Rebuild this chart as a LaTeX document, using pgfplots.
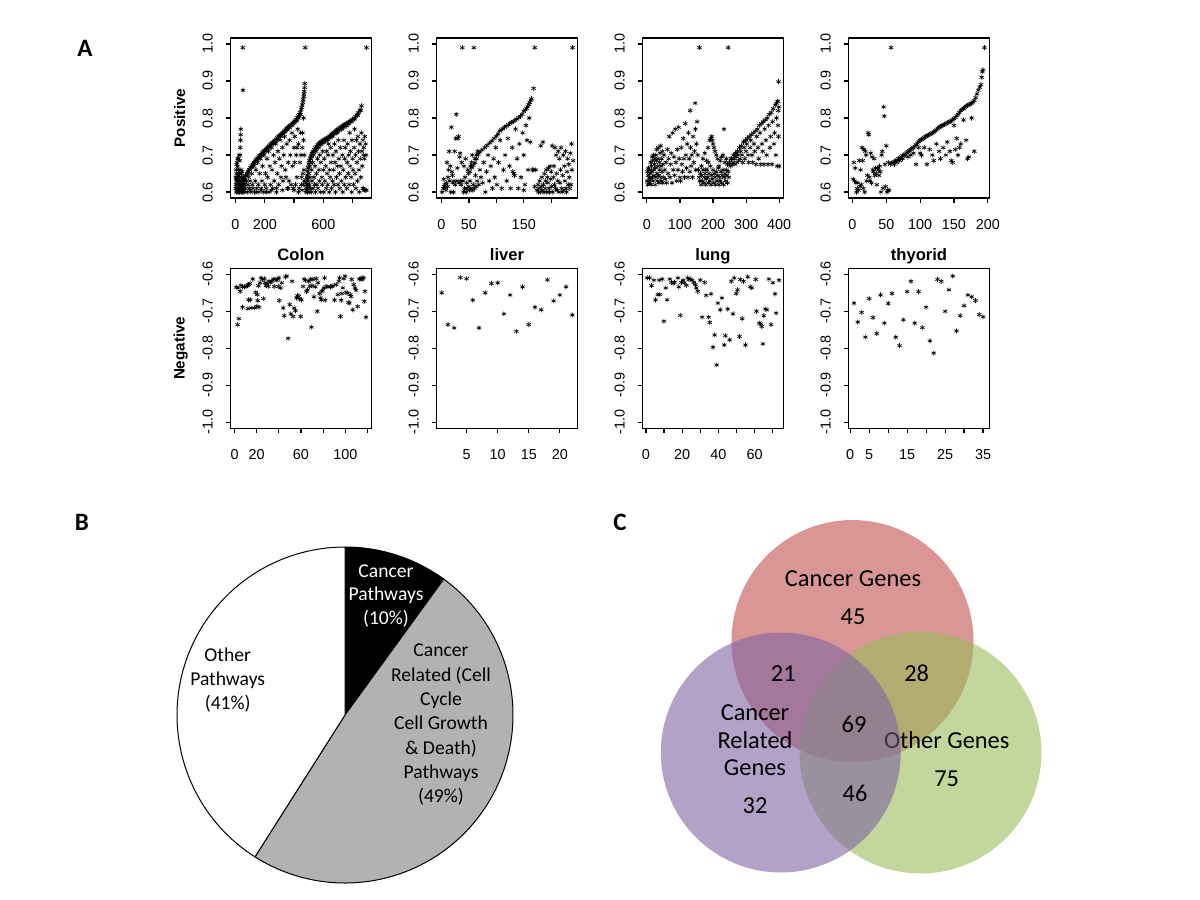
\documentclass[border=0pt]{standalone}
\usepackage{pgfplots}
\pgfplotsset{compat=1.18}
\usepackage{fontspec}
\setmainfont{Liberation Sans}
\newfontfamily\calibri{Carlito}
\definecolor{vred}{HTML}{C0504D}
\definecolor{vgreen}{HTML}{9BBB59}
\definecolor{vpurple}{HTML}{8064A2}
\definecolor{piegray}{RGB}{178,178,178}
\definecolor{darkO}{RGB}{63,49,81}
\pgfplotsset{
  rplot/.style={
    scale only axis, width=70.5pt, height=80pt, anchor=south west,
    axis line style={line width=0.6pt},
    tick align=outside, tick pos=left,
    major tick length=2.5pt,
    every tick/.style={black, line width=0.6pt},
    tick label style={font=\fontsize{7.2}{8}\selectfont, inner sep=0pt},
    xticklabel style={anchor=base, yshift=-13.2pt},
    yticklabel style={xshift=-6.4pt, rotate=90, anchor=base},
  },
  toprow/.style={rplot, ymin=0.584, ymax=1.016, ytick={0.6,0.7,0.8,0.9,1.0}, yticklabels={0.6,0.7,0.8,0.9,1.0}},
  botrow/.style={rplot, ymin=-1.016, ymax=-0.584, ytick={-1,-0.9,-0.8,-0.7,-0.6}, yticklabels={-1.0,-0.9,-0.8,-0.7,-0.6}},
  pts/.style={only marks, mark=asterisk, mark size=1.25pt, mark options={line width=0.33pt, black}},
}
\pgfmathsetmacro\pieA{10}
\pgfmathsetmacro\pieB{49}
\pgfmathsetmacro\pieC{41}
\pgfmathsetmacro\aOne{90-3.6*\pieA}
\pgfmathsetmacro\aTwo{\aOne-3.6*\pieB}
\pgfmathsetmacro\aThree{\aTwo-3.6*\pieC}
\begin{document}
\begin{tikzpicture}
\useasboundingbox (0,0) rectangle (600pt,-450pt);

% ---------------- Colon positive
\begin{axis}[toprow, at={(115.25pt,-99pt)}, xmin=-34, xmax=929,
  xtick={0,200,400,600,800}, xticklabels={0,200,,600,}]
\addplot[pts] coordinates {
(2,.61)(3,.64)(4,.62)(5,.66)(6,.60)(7,.63)(8,.65)(9,.61)(10,.68)(11,.62)(12,.64)(13,.60)(14,.67)(15,.63)(16,.61)(17,.65)(18,.62)(19,.69)(20,.60)(21,.64)(22,.66)(23,.61)(24,.63)(25,.70)(26,.62)(27,.60)(28,.65)(29,.61)(30,.685)(31,.63)(32,.70)(33,.72)(34,.74)(35,.755)(36,.77)(37,.62)(38,.66)(39,.64)(40,.60)(41,.63)(42,.61)(43,.65)(44,.62)(45,.60)(46,.64)(47,.61)(48,.63)(49,.60)(50,.99)(51,.875)(52,.62)(53,.605)(54,.64)(55,.61)(57,.63)(58,.60)(60,.62)(6,.635)(12,.605)(18,.645)(24,.605)(36,.615)(44,.655)(8,.675)(15,.69)(22,.605)
(62,.639)(70,.645)(78,.651)(86,.656)(94,.661)(102,.666)(110,.671)(118,.675)(126,.68)(134,.684)(142,.688)(150,.692)(158,.695)(166,.699)(174,.702)(182,.706)(190,.709)(198,.712)(206,.716)(214,.719)(222,.722)(230,.725)(238,.728)(246,.731)(254,.734)(262,.737)(270,.74)(278,.743)(286,.747)(294,.75)(302,.753)(310,.756)(318,.759)(326,.762)(334,.765)(342,.768)(350,.772)(358,.775)(366,.778)(374,.78)(382,.783)(390,.786)(398,.789)(406,.792)(414,.796)(422,.801)(430,.806)(436,.81)(442,.815)(448,.822)(452,.828)(456,.835)(460,.842)(463,.85)(466,.858)(468,.865)(470,.872)(472,.882)(473,.893)
(66,.635)(82,.648)(98,.659)(114,.668)(130,.677)(146,.685)(162,.692)(178,.699)(194,.706)(210,.712)(226,.718)(242,.724)(258,.731)(274,.736)(290,.743)(306,.75)(322,.756)(338,.762)(354,.768)(370,.774)(386,.78)(402,.786)(418,.792)(432,.80)(445,.81)
(65,.62)(70,.61)(75,.63)(80,.60)(85,.62)(90,.64)(95,.61)(100,.63)(105,.60)(110,.65)(115,.62)(120,.61)(125,.67)(130,.60)(135,.63)(140,.66)(145,.61)(150,.68)(155,.62)(160,.60)(165,.65)(170,.69)(175,.61)(180,.63)(185,.67)(190,.60)(195,.70)(200,.62)(205,.65)(210,.61)(215,.69)(220,.64)(225,.71)(230,.60)(235,.67)(240,.62)(245,.72)(250,.66)(255,.61)(260,.70)(265,.63)(270,.68)(275,.73)(280,.61)(285,.65)(290,.71)(295,.62)(300,.69)(305,.74)(310,.64)(315,.67)(320,.72)(325,.63)(330,.70)(335,.75)(340,.66)(345,.64)(350,.73)(355,.61)(360,.68)(365,.63)(370,.74)(375,.70)(380,.62)(385,.76)(390,.67)(395,.61)(400,.72)(405,.75)(410,.62)(415,.70)(420,.64)(425,.77)(430,.73)(435,.61)(440,.68)(445,.76)(450,.62)(455,.72)(460,.65)(465,.80)(470,.63)
(100,.605)(140,.60)(175,.605)(210,.60)(245,.605)(280,.60)(320,.605)(360,.61)(400,.605)(430,.60)(455,.605)(463,.62)(467,.66)(470,.70)(465,.74)(458,.76)(448,.70)(452,.64)(420,.72)(405,.68)
(477,.99)(895,.99)
(484,.612)(486,.625)(488,.637)(490,.646)(493,.657)(496,.667)(500,.676)(505,.685)(510,.692)(516,.699)(522,.705)(530,.710)(538,.715)(546,.72)(554,.724)(562,.728)(570,.731)(578,.734)(586,.736)(594,.738)(602,.740)(610,.742)(618,.744)(626,.746)(634,.748)(642,.751)(650,.754)(658,.756)(666,.759)(674,.761)(682,.764)(690,.767)(698,.769)(706,.771)(714,.774)(722,.776)(730,.778)(738,.780)(746,.782)(754,.784)(762,.786)(770,.788)(780,.791)(790,.794)(800,.797)(810,.8)(820,.804)(830,.809)(840,.815)(850,.822)(861,.833)
(487,.62)(492,.64)(498,.665)(507,.68)(520,.695)(535,.707)(550,.716)(566,.723)(582,.729)(598,.733)(614,.737)(630,.741)(646,.746)(662,.752)(678,.757)(694,.762)(710,.767)(726,.771)(742,.775)(758,.779)(775,.784)(795,.79)(815,.797)(835,.807)(855,.82)
(482,.60)(485,.605)(488,.61)(490,.62)(492,.60)(495,.63)(497,.61)(500,.65)(503,.60)(505,.62)(508,.67)(510,.64)(513,.61)(515,.69)(518,.60)(520,.66)(523,.63)(526,.68)(530,.61)(533,.70)(536,.64)(540,.62)(543,.67)(546,.60)(550,.71)(553,.65)(556,.62)(560,.69)(563,.61)(566,.72)(570,.66)(573,.63)(576,.70)(580,.60)(583,.68)(586,.73)(590,.64)(593,.62)(596,.71)(600,.66)(603,.60)(606,.69)(610,.63)(613,.74)(616,.67)(620,.61)(623,.71)(626,.65)(630,.62)(633,.70)(636,.73)(640,.60)(643,.66)(646,.64)(650,.72)(653,.68)(656,.61)(660,.75)(663,.63)(666,.70)(670,.66)(673,.62)(676,.73)(680,.68)(683,.60)(686,.71)(690,.64)(693,.76)(696,.67)(700,.62)(703,.74)(706,.69)(710,.65)(713,.61)(716,.72)(720,.67)(723,.63)(726,.77)(730,.70)(733,.60)(736,.66)(740,.74)(743,.62)(746,.69)(750,.72)(753,.64)(756,.78)(760,.61)(763,.68)(766,.73)(770,.65)(773,.70)(776,.62)(780,.76)(783,.67)(786,.71)(790,.64)(793,.60)(796,.74)(800,.69)(803,.66)(806,.62)(810,.72)(813,.77)(816,.65)(820,.70)(823,.61)(826,.74)(830,.68)(833,.63)(836,.75)(840,.71)(843,.66)(846,.60)(850,.73)(853,.69)(856,.64)(860,.76)(863,.71)(866,.67)(870,.74)(873,.61)(876,.72)(880,.69)(883,.75)(886,.605)(889,.73)(892,.70)(894,.605)(880,.605)(870,.61)(875,.70)
};
\end{axis}

% ---------------- liver positive
\begin{axis}[toprow, at={(218.25pt,-99pt)}, xmin=-9.1, xmax=248,
  xtick={0,50,100,150,200}, xticklabels={0,50,,150,}]
\addplot[pts] coordinates {
(1,.60)(3,.61)(4,.635)(5,.615)(6,.62)(7,.61)(8,.605)(9,.625)(10,.68)(11,.615)(12,.64)(13,.66)(14,.71)(15,.63)(16,.67)(17,.60)(18,.775)(19,.655)(20,.645)(21,.625)(22,.60)(23,.63)(24,.71)(25,.62)(26,.745)(27,.81)(28,.63)(29,.665)(30,.745)(31,.75)(32,.625)(33,.695)(34,.705)(35,.63)(36,.62)(37,.68)(38,.99)(39,.63)(40,.60)(41,.67)(42,.61)(43,.64)(44,.69)(45,.60)(46,.625)(47,.61)(48,.66)(49,.65)(50,.615)(51,.605)(52,.63)(53,.67)(54,.61)(55,.68)(56,.70)(57,.605)(58,.62)(59,.99)(60,.61)(61,.69)(62,.645)(63,.615)(64,.70)(65,.63)(66,.71)
(67,.702)(70,.708)(74,.714)(79,.72)(83,.726)(88,.733)(92,.738)(96,.745)(100,.751)(103,.757)(106,.765)(109,.768)(112,.771)(115,.775)(118,.778)(122,.782)(125,.786)(128,.788)(131,.791)(134,.794)(137,.797)(141,.801)(144,.805)(147,.81)(150,.818)(153,.822)(155,.826)(157,.83)(159,.836)(161,.842)(163,.848)(164,.852)(168,.88)(170,.99)
(52,.655)(55,.666)(58,.672)(61,.679)(64,.69)
(68,.62)(70,.66)(72,.64)(75,.625)(77,.68)(80,.60)(82,.655)(85,.70)(87,.63)(90,.67)(93,.61)(95,.69)(97,.64)(99,.72)(101,.62)(104,.68)(107,.74)(110,.61)(113,.66)(116,.70)(119,.63)(121,.745)(124,.67)(126,.61)(129,.72)(132,.65)(135,.77)(138,.69)(140,.61)(142,.73)(145,.64)(148,.76)(150,.70)(152,.62)(154,.78)(156,.74)(158,.66)(160,.80)(162,.735)(150,.605)(130,.655)(133,.645)
(166,.66)(168,.66)(170,.615)(172,.66)(174,.605)(176,.62)(177,.60)(178,.61)(179,.63)(180,.60)(181,.725)(182,.615)(183,.64)(184,.605)(185,.735)(186,.62)(187,.60)(188,.65)(189,.61)(190,.63)(191,.66)(192,.60)(193,.64)(194,.625)(195,.665)(196,.61)(197,.60)(198,.67)(199,.635)(200,.655)(201,.615)(202,.725)(203,.60)(204,.64)(205,.67)(206,.62)(207,.72)(208,.61)(209,.70)(210,.65)(211,.605)(212,.63)(213,.71)(214,.60)(215,.69)(216,.625)(217,.66)(218,.72)(219,.61)(220,.60)(221,.645)(222,.70)(223,.605)(224,.67)(225,.63)(226,.71)(227,.61)(228,.60)(229,.655)(230,.69)(231,.62)(232,.675)(233,.64)(234,.61)(235,.705)(236,.62)(237,.73)(238,.66)(239,.99)(240,.685)
};
\end{axis}

% ---------------- lung positive
\begin{axis}[toprow, at={(321.25pt,-99pt)}, xmin=-13, xmax=413,
  xtick={0,100,200,300,400}, xticklabels={0,100,200,300,400}]
\addplot[pts] coordinates {
(1,.63)(2,.655)(3,.62)(4,.645)(5,.665)(6,.63)(7,.64)(8,.625)(9,.66)(10,.65)(11,.635)(12,.68)(13,.62)(14,.67)(15,.655)(16,.695)(17,.64)(18,.685)(19,.63)(20,.70)(21,.66)(22,.645)(23,.675)(24,.69)(25,.62)(26,.665)(27,.70)(28,.64)(29,.685)(30,.715)(31,.65)(32,.63)(33,.67)(34,.69)(35,.72)(36,.645)(37,.625)(38,.68)(39,.66)(40,.705)(41,.64)(42,.725)(43,.67)(44,.63)(45,.69)(46,.655)(47,.71)(48,.625)(49,.675)(50,.64)(52,.70)(54,.66)(56,.635)(58,.68)(60,.625)(62,.715)(64,.65)(66,.69)(68,.75)(70,.64)(72,.675)(74,.705)(76,.625)(78,.76)(80,.66)(82,.695)(84,.645)(86,.77)(88,.68)(90,.63)(92,.715)(94,.66)(96,.775)(98,.69)(100,.64)(102,.63)(104,.72)(106,.675)(108,.655)(110,.745)(112,.69)(114,.64)(116,.785)(118,.70)(120,.665)(122,.73)(124,.64)(126,.76)(128,.69)(130,.655)(131,.82)(132,.72)(134,.67)(136,.70)(138,.64)(140,.75)(142,.68)(144,.71)(146,.84)(147,.77)(148,.66)(150,.73)(152,.79)(154,.70)(156,.66)
(158,.64)(160,.63)(162,.65)(164,.62)(166,.645)(168,.63)(170,.66)(172,.625)(174,.64)(176,.65)(178,.62)(180,.635)(182,.66)(184,.64)(186,.625)(188,.65)(190,.63)(192,.67)(194,.62)(196,.645)(198,.635)(200,.66)(202,.625)(204,.65)(206,.64)(208,.62)(210,.655)(212,.63)(214,.645)(216,.665)(218,.62)(220,.64)(222,.63)(224,.655)(226,.625)(228,.645)(230,.66)(232,.62)(234,.64)(236,.65)(238,.63)(240,.66)(242,.645)(244,.625)(246,.655)(248,.64)
(165,.67)(170,.69)(175,.705)(180,.685)(185,.72)(190,.74)(193,.745)(196,.75)(198,.74)(200,.73)(203,.72)(206,.71)(210,.70)(214,.69)(218,.67)(222,.685)(226,.695)(230,.70)(233,.77)(236,.68)(240,.69)(244,.675)(159,.99)(246,.99)(178,.66)(186,.68)
(250,.68)(256,.69)(262,.70)(268,.705)(274,.71)(280,.72)(286,.725)(292,.735)(298,.74)(304,.745)(310,.75)(316,.755)(322,.76)(328,.765)(334,.77)(340,.78)(346,.785)(352,.79)(358,.795)(364,.80)(370,.81)(376,.815)(382,.825)(388,.835)(392,.84)(396,.845)(398,.898)
(252,.67)(254,.69)(258,.675)(260,.68)(264,.69)(266,.675)(270,.695)(272,.68)(276,.70)(278,.685)(282,.69)(284,.71)(288,.70)(290,.68)(294,.72)(296,.69)(300,.71)(302,.73)(306,.70)(308,.68)(312,.72)(314,.74)(318,.70)(320,.68)(324,.73)(326,.71)(330,.675)(332,.75)(336,.72)(338,.69)(342,.76)(344,.675)(348,.73)(350,.71)(354,.675)(356,.77)(360,.74)(362,.70)(366,.675)(368,.78)(372,.72)(374,.75)(378,.675)(380,.79)(384,.73)(386,.76)(390,.70)(392,.80)(394,.67)(396,.78)(398,.75)(400,.67)(397,.82)(399,.83)(395,.845)
};
\end{axis}

% ---------------- thyroid positive
\begin{axis}[toprow, at={(424.25pt,-99pt)}, xmin=-5.9, xmax=202.5,
  xtick={0,50,100,150,200}, xticklabels={0,50,100,150,200}]
\addplot[pts] coordinates {
(1,.635)(2,.68)(3,.63)(4,.665)(5,.625)(6,.60)(7,.61)(8,.625)(9,.605)(10,.685)(11,.615)(12,.66)(13,.62)(14,.72)(15,.685)(16,.61)(17,.715)(18,.60)(19,.71)(20,.70)(21,.63)(22,.645)(23,.76)(24,.755)(25,.64)(26,.63)(27,.705)(28,.625)(29,.695)(30,.66)(31,.655)(32,.69)(33,.645)(34,.665)(35,.65)(36,.62)(37,.665)(38,.66)(39,.645)(40,.67)(41,.655)(42,.60)(43,.70)(44,.71)(45,.61)(46,.83)(47,.805)(48,.675)(49,.615)(50,.725)(51,.60)(52,.605)(53,.68)(54,.605)(57,.99)
(56,.675)(58,.678)(60,.68)(62,.682)(64,.684)(66,.687)(68,.69)(70,.692)(72,.695)(74,.698)(76,.70)(78,.703)(80,.706)(82,.709)(84,.712)(86,.715)(88,.718)(90,.72)(92,.724)(94,.728)(96,.732)(98,.736)(100,.74)(102,.742)(104,.744)(106,.747)(108,.75)(110,.752)(112,.754)(114,.756)(116,.758)(118,.76)(120,.762)(122,.765)(124,.768)(126,.772)(128,.775)(130,.777)(132,.779)(134,.781)(136,.783)(138,.785)(140,.787)(142,.789)(144,.79)(146,.792)(148,.795)(150,.798)(152,.802)(154,.806)(156,.81)(158,.815)(160,.82)(162,.823)(164,.826)(166,.829)(168,.832)(170,.834)(172,.836)(174,.838)(176,.84)(178,.843)(180,.847)(182,.855)(184,.865)(186,.875)(188,.883)(190,.89)(191,.91)(192,.925)(193,.93)(195,.99)
(62,.675)(66,.68)(70,.685)(74,.69)(78,.70)(82,.695)(86,.70)(90,.705)(94,.675)(98,.72)(100,.705)(102,.70)(106,.72)(110,.675)(114,.715)(118,.70)(120,.685)(124,.73)(128,.71)(130,.69)(134,.72)(138,.70)(140,.735)(144,.71)(146,.685)(148,.68)(150,.78)(152,.715)(154,.745)(156,.70)(160,.73)(164,.795)(168,.74)(170,.69)(176,.80)(180,.71)(172,.695)(158,.72)
};
\end{axis}

% ---------------- Colon negative
\begin{axis}[botrow, at={(115.25pt,-214.15pt)}, xmin=-3.7, xmax=123.7,
  xtick={0,20,40,60,80,100,120}, xticklabels={0,20,,60,,100,}]
\addplot[pts] coordinates {
(2.7,-.736)(3.9,-.720)(1.5,-.635)(3.0,-.637)(5.1,-.646)(5.7,-.630)(7.2,-.634)(9.0,-.634)(10.2,-.633)(11.7,-.631)(12.6,-.628)(13.8,-.625)(16.4,-.613)(12.6,-.669)(14.1,-.669)(7.2,-.689)(12.0,-.693)(14.9,-.691)(17.9,-.691)(20.0,-.687)(22.1,-.689)(19.1,-.649)(20.6,-.655)(21.5,-.631)(23.0,-.623)(23.9,-.610)(25.1,-.614)(26.9,-.612)(26.0,-.666)(20.9,-.671)(27.5,-.623)(28.4,-.631)(29.3,-.626)(30.5,-.633)(31.1,-.619)(32.3,-.622)(33.5,-.619)(35.0,-.613)(35.9,-.633)(36.5,-.614)(38.0,-.616)(38.9,-.613)(40.1,-.610)(40.4,-.671)(39.5,-.633)(41.6,-.637)(42.5,-.623)(43.9,-.691)(44.8,-.712)(46.0,-.607)(47.2,-.605)(48.4,-.773)(49.9,-.682)(50.8,-.707)(52.0,-.619)(52.9,-.714)(53.8,-.691)(55.0,-.698)(55.9,-.664)(56.8,-.658)(58.0,-.660)(58.9,-.667)(59.8,-.714)(60.4,-.669)(61.9,-.633)(62.8,-.613)(64.0,-.616)(64.9,-.646)(65.8,-.643)(67.0,-.619)(67.9,-.633)(68.8,-.613)(69.4,-.743)(70.0,-.631)(70.9,-.614)(71.7,-.661)(72.9,-.634)(73.8,-.612)(74.7,-.700)(75.3,-.623)(76.8,-.652)(77.7,-.664)(78.3,-.669)(78.9,-.646)(79.8,-.643)(80.7,-.637)(81.3,-.610)(81.9,-.670)(82.8,-.633)(84.3,-.634)(86.7,-.634)(87.9,-.633)(88.8,-.631)(90.3,-.670)(91.8,-.628)(93.3,-.655)(94.2,-.619)(94.8,-.610)(95.7,-.714)(96.3,-.670)(96.9,-.652)(97.8,-.637)(98.7,-.612)(99.9,-.605)(100.7,-.649)(102.2,-.651)(102.8,-.676)(103.7,-.678)(104.6,-.655)(105.2,-.660)(105.8,-.614)(106.7,-.696)(107.6,-.628)(108.8,-.637)(109.7,-.643)(111.2,-.687)(112.7,-.613)(114.2,-.611)(115.1,-.614)(115.7,-.610)(116.6,-.610)(117.2,-.673)(117.8,-.646)(118.7,-.716)
};
\end{axis}

% ---------------- liver negative
\begin{axis}[botrow, at={(218.25pt,-214.15pt)}, xmin=0.16, xmax=22.84,
  xtick={5,10,15,20}, xticklabels={5,10,15,20}]
\addplot[pts] coordinates {
(1,-.650)(2,-.736)(3,-.745)(4,-.609)(5,-.612)(6,-.670)(7,-.745)(8,-.650)(9,-.625)(10,-.623)(11,-.707)(12,-.656)(13,-.754)(14,-.634)(15,-.736)(16,-.689)(17,-.696)(18,-.615)(19,-.672)(20,-.656)(21,-.634)(22,-.710)
};
\end{axis}

% ---------------- lung negative
\begin{axis}[botrow, at={(321.25pt,-214.15pt)}, xmin=-1.88, xmax=75.88,
  xtick={0,10,20,30,40,50,60,70}, xticklabels={0,,20,,40,,60,}]
\addplot[pts] coordinates {
(0.7,-.610)(2.0,-.610)(3.1,-.631)(4.4,-.616)(5.3,-.669)(6.6,-.655)(7.7,-.655)(7.3,-.616)(9.0,-.613)(9.9,-.727)(11.0,-.637)(11.7,-.669)(13.2,-.613)(14.1,-.622)(15.0,-.625)(15.8,-.622)(17.6,-.610)(18.1,-.634)(19.0,-.711)(19.6,-.622)(20.5,-.616)(21.2,-.623)(22.3,-.630)(23.1,-.610)(23.8,-.614)(24.5,-.613)(25.5,-.616)(26.4,-.622)(27.3,-.628)(27.8,-.637)(28.6,-.646)(30.0,-.616)(31.0,-.716)(32.4,-.622)(33.2,-.657)(34.6,-.716)(35.2,-.730)(35.9,-.653)(37.0,-.797)(37.9,-.764)(39.0,-.845)(39.7,-.678)(41.0,-.696)(41.9,-.664)(43.2,-.791)(43.8,-.766)(45.1,-.694)(46.2,-.777)(47.1,-.619)(48.0,-.707)(48.7,-.610)(49.8,-.652)(50.5,-.642)(51.6,-.768)(52.0,-.614)(53.1,-.720)(53.8,-.619)(54.9,-.791)(56.2,-.607)(57.5,-.634)(58.4,-.637)(60.6,-.614)(61.0,-.700)(62.5,-.732)(63.4,-.734)(63.9,-.741)(64.5,-.788)(65.0,-.712)(65.9,-.694)(66.7,-.696)(67.8,-.613)(69.0,-.736)(70.0,-.623)(71.2,-.653)(71.8,-.705)(73.4,-.616)
};
\end{axis}

% ---------------- thyroid negative
\begin{axis}[botrow, at={(424.25pt,-214.15pt)}, xmin=-0.45, xmax=36.7,
  xtick={0,5,10,15,20,25,30,35}, xticklabels={0,5,,15,,25,,35}]
\addplot[pts] coordinates {
(1,-.678)(2,-.729)(3,-.703)(4,-.770)(5,-.666)(6,-.717)(7,-.760)(8,-.656)(9,-.732)(10,-.679)(11,-.652)(12,-.770)(13,-.793)(14,-.723)(15,-.647)(16,-.619)(17,-.732)(18,-.647)(19,-.744)(20,-.689)(21,-.780)(22,-.813)(23,-.614)(24,-.619)(25,-.700)(26,-.642)(27,-.605)(28,-.753)(29,-.712)(30,-.685)(31,-.656)(32,-.661)(33,-.671)(34,-.709)(35,-.715)
};
\end{axis}

% ---------------- overlay in pixel coordinates: pie, Venn, texts
\begin{axis}[hide axis, scale only axis, width=600pt, height=450pt,
  xmin=0, xmax=1200, ymin=0, ymax=900, y dir=reverse,
  anchor=north west, at={(0pt,0pt)}, clip=false]
% pie
\addplot[fill=black, draw=black, line width=0.5pt, domain=\aOne:90, samples=40]
  ({345+168*cos(x)},{715-168*sin(x)}) -- (axis cs:345,715) -- cycle;
\addplot[fill=piegray, draw=black, line width=0.5pt, domain=\aTwo:\aOne, samples=120]
  ({345+168*cos(x)},{715-168*sin(x)}) -- (axis cs:345,715) -- cycle;
\addplot[fill=white, draw=black, line width=0.5pt, domain=\aThree:\aTwo, samples=120]
  ({345+168*cos(x)},{715-168*sin(x)}) -- (axis cs:345,715) -- cycle;
% Venn
\addplot[draw=none, fill=vred, fill opacity=0.6, domain=0:360, samples=150]
  ({852.5+121*cos(x)},{641+121*sin(x)}) -- cycle;
\addplot[draw=none, fill=vgreen, fill opacity=0.6, domain=0:360, samples=150]
  ({920.5+121*cos(x)},{752.5+121*sin(x)}) -- cycle;
\addplot[draw=none, fill=vpurple, fill opacity=0.6, domain=0:360, samples=150]
  ({780.8+120*cos(x)},{752.5+120*sin(x)}) -- cycle;

% panel letters
\node[anchor=base, font=\calibri\bfseries\fontsize{12.5}{14}\selectfont] at (axis cs:85,56) {A};
\node[anchor=base, font=\calibri\bfseries\fontsize{12.5}{14}\selectfont] at (axis cs:82,530) {B};
\node[anchor=base, font=\calibri\bfseries\fontsize{12.5}{14}\selectfont] at (axis cs:620,530.5) {C};

% panel A labels
\node[anchor=base, rotate=90, font=\bfseries\fontsize{7.6}{9}\selectfont] at (axis cs:185,118) {Positive};
\node[anchor=base, rotate=90, font=\bfseries\fontsize{7.6}{9}\selectfont] at (axis cs:184.5,348.3) {Negative};
\node[anchor=base, font=\bfseries\fontsize{8.3}{10}\selectfont] at (axis cs:301,260.5) {Colon};
\node[anchor=base, font=\bfseries\fontsize{8.3}{10}\selectfont] at (axis cs:507,260.5) {liver};
\node[anchor=base, font=\bfseries\fontsize{8.3}{10}\selectfont] at (axis cs:713,260.5) {lung};
\node[anchor=base, font=\bfseries\fontsize{8.3}{10}\selectfont] at (axis cs:919,260.5) {thyorid};

% pie labels
\begin{scope}[every node/.style={anchor=base, font=\calibri\fontsize{9.8}{12}\selectfont}]
\node[text=white] at (axis cs:386,577.3) {Cancer};
\node[text=white] at (axis cs:386,600.5) {Pathways};
\node[text=white] at (axis cs:386,624) {(10\%)};
\node at (axis cs:227.7,661) {Other};
\node at (axis cs:227.7,685) {Pathways};
\node at (axis cs:227.7,709.3) {(41\%)};
\node at (axis cs:441,656.7) {Cancer};
\node at (axis cs:441,681) {Related (Cell};
\node at (axis cs:441,705) {Cycle};
\node at (axis cs:441,729.3) {Cell Growth};
\node at (axis cs:441,754) {\& Death)};
\node at (axis cs:441,778.3) {Pathways};
\node at (axis cs:441,802.7) {(49\%)};
\end{scope}

% Venn labels
\begin{scope}[every node/.style={anchor=base, font=\calibri\fontsize{12.2}{14}\selectfont}]
\node at (axis cs:853,586.7) {Cancer Genes};
\node at (axis cs:853,624) {45};
\node at (axis cs:783.3,681.7) {21};
\node at (axis cs:916.7,681.7) {28};
\node at (axis cs:854,732.7) {69};
\node at (axis cs:755,720.7) {Cancer};
\node at (axis cs:755,748.3) {Related};
\node at (axis cs:755,775) {Genes};
\node at (axis cs:755,813.3) {32};
\node at (axis cs:946.7,748.3) {{\color{darkO}O}ther Genes};
\node at (axis cs:946.7,786) {75};
\node at (axis cs:855,801.7) {46};
\end{scope}
\end{axis}
\end{tikzpicture}
\end{document}
